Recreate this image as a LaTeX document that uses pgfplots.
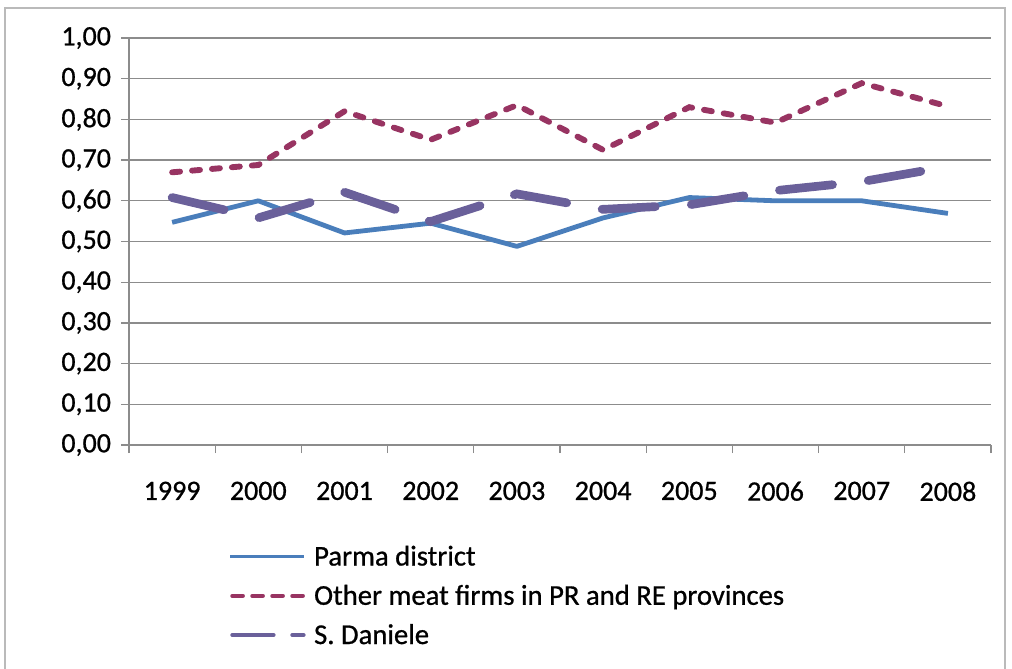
\documentclass[border=0pt]{standalone}
\usepackage{fontspec}
\setmainfont{Carlito}[FakeBold=0.8,BoldFont=Carlito]
\usepackage{pgfplots}
\pgfplotsset{compat=1.18}
\definecolor{cblue}{RGB}{74,126,187}
\definecolor{cred}{RGB}{152,52,98}
\definecolor{cpurp}{RGB}{106,96,154}
\definecolor{cgrid}{RGB}{140,140,140}
\begin{document}
\begin{tikzpicture}[x=1pt,y=1pt]
\useasboundingbox (0,0) rectangle (759,501);
\draw[cgrid!60, line width=1.5pt] (3.75,-5) -- (3.75,495) -- (753.75,495) -- (753.75,-5);
\begin{axis}[at={(96.75pt,167.25pt)}, anchor=south west, scale only axis,
  width=646.5pt, height=305.25pt,
  xmin=-0.5, xmax=9.5, ymin=0, ymax=1,
  xtick={-0.5,0.5,1.5,2.5,3.5,4.5,5.5,6.5,7.5,8.5,9.5},
  xticklabels={1999,2000,2001,2002,2003,2004,2005,2006,2007,2008},
  x tick label as interval,
  ytick={0,0.1,0.2,0.3,0.4,0.5,0.6,0.7,0.8,0.9,1.0},
  yticklabel style={xshift=-4pt, /pgf/number format/.cd, fixed, fixed zerofill, precision=2, use comma, assume math mode=true},
  xticklabel style={yshift=-18pt},
  ticklabel style={font=\bfseries\fontsize{21}{24}\selectfont},
  axis x line*=bottom, axis y line*=left,
  axis line style={cgrid, line width=1pt, -},
  tick style={cgrid, line width=1pt},
  tick align=outside,
  major tick length=6pt,
  ymajorgrids, grid style={cgrid, line width=1pt},
  clip=false,
  legend style={at={(0.115,-0.24)}, anchor=north west, draw=none, fill=none,
    font=\bfseries\fontsize{21.5}{24}\selectfont, row sep=9pt, inner sep=0pt,
    /tikz/every odd column/.append style={column sep=4pt}},
  legend cell align=left,
]
\addplot[cblue, line width=3.6pt, line join=round,
  legend image code/.code={\draw[cblue, line width=2.8pt] (0,0) -- (55.5pt,0);}]
  coordinates {(0,0.547)(1,0.600)(2,0.521)(3,0.545)(4,0.488)(5,0.558)(6,0.608)(7,0.600)(8,0.600)(9,0.569)};
\addlegendentry{Parma district}
\addplot[cred, line width=4.4pt, line cap=round, dash pattern=on 6pt off 9pt,
  legend image code/.code={\draw[cred, line width=3pt, line cap=round, dash pattern=on 8pt off 7pt] (1.5pt,0) -- (55pt,0);}]
  coordinates {(0,0.670)(1,0.688)(2,0.820)(3,0.750)(4,0.835)(5,0.725)(6,0.830)(7,0.792)(8,0.889)(9,0.832)};
\addlegendentry{Other meat firms in PR and RE provinces}
\addplot[cpurp, line width=6.5pt, line cap=round, dash pattern=on 40pt off 27pt,
  legend image code/.code={\draw[cpurp, line width=3pt, line cap=round, dash pattern=on 31pt off 14pt] (1.5pt,0) -- (55pt,0);}]
  coordinates {(0,0.608)(1,0.558)(2,0.621)(3,0.549)(4,0.617)(5,0.579)(6,0.590)(7,0.625)(8,0.647)(9,0.684)};
\addlegendentry{S. Daniele}
\end{axis}
\end{tikzpicture}
\end{document}
